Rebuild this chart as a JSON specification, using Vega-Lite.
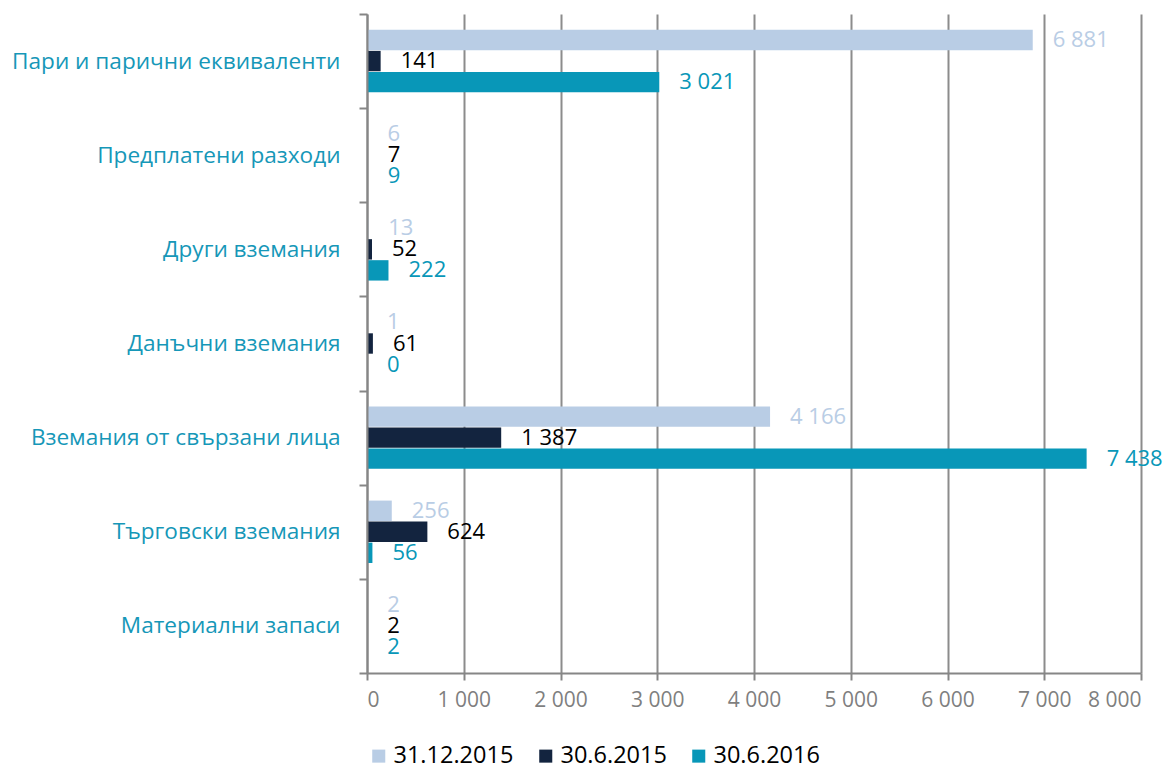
{
  "$schema": "https://vega.github.io/schema/vega-lite/v6.json",
  "width": 774,
  "height": 659,
  "autosize": {"type": "none"},
  "padding": {"left": 367, "top": 14, "right": 34, "bottom": 96},
  "background": "white",
  "config": {
    "locale": {"number": {"decimal": ",", "thousands": " ", "grouping": [3], "currency": ["", ""]}},
    "view": {"stroke": null},
    "font": "Open Sans"
  },
  "data": {
    "values": [
      {"cat": "Пари и парични еквиваленти", "series": "31.12.2015", "value": 6881},
      {"cat": "Пари и парични еквиваленти", "series": "30.6.2015", "value": 141},
      {"cat": "Пари и парични еквиваленти", "series": "30.6.2016", "value": 3021},
      {"cat": "Предплатени разходи", "series": "31.12.2015", "value": 6},
      {"cat": "Предплатени разходи", "series": "30.6.2015", "value": 7},
      {"cat": "Предплатени разходи", "series": "30.6.2016", "value": 9},
      {"cat": "Други вземания", "series": "31.12.2015", "value": 13},
      {"cat": "Други вземания", "series": "30.6.2015", "value": 52},
      {"cat": "Други вземания", "series": "30.6.2016", "value": 222},
      {"cat": "Данъчни вземания", "series": "31.12.2015", "value": 1},
      {"cat": "Данъчни вземания", "series": "30.6.2015", "value": 61},
      {"cat": "Данъчни вземания", "series": "30.6.2016", "value": 0},
      {"cat": "Вземания от свързани лица", "series": "31.12.2015", "value": 4166},
      {"cat": "Вземания от свързани лица", "series": "30.6.2015", "value": 1387},
      {"cat": "Вземания от свързани лица", "series": "30.6.2016", "value": 7438},
      {"cat": "Търговски вземания", "series": "31.12.2015", "value": 256},
      {"cat": "Търговски вземания", "series": "30.6.2015", "value": 624},
      {"cat": "Търговски вземания", "series": "30.6.2016", "value": 56},
      {"cat": "Материални запаси", "series": "31.12.2015", "value": 2},
      {"cat": "Материални запаси", "series": "30.6.2015", "value": 2},
      {"cat": "Материални запаси", "series": "30.6.2016", "value": 2}
    ]
  },
  "encoding": {
    "y": {
      "field": "cat",
      "type": "nominal",
      "sort": null,
      "title": null,
      "scale": {"paddingInner": 0, "paddingOuter": 0},
      "axis": {
        "zindex": 1,
        "domainColor": "#868686",
        "domainWidth": 2,
        "tickColor": "#868686",
        "tickWidth": 2,
        "tickSize": 8,
        "tickBand": "extent",
        "labelFontSize": 22.6,
        "labelColor": "#1697b8",
        "labelPadding": 19,
        "labelLimit": 400,
        "labelFont": "Open Sans"
      }
    },
    "yOffset": {
      "field": "series",
      "type": "nominal",
      "sort": ["31.12.2015", "30.6.2015", "30.6.2016"],
      "scale": {"domain": ["31.12.2015", "30.6.2015", "30.6.2016"], "paddingInner": 0.03, "paddingOuter": 0.755}
    },
    "x": {
      "field": "value",
      "type": "quantitative",
      "title": null,
      "scale": {"domain": [0, 8000], "nice": false},
      "axis": {
        "values": [0, 1000, 2000, 3000, 4000, 5000, 6000, 7000, 8000],
        "format": ",d",
        "domainColor": "#868686",
        "domainWidth": 2,
        "tickColor": "#868686",
        "tickWidth": 2,
        "tickSize": 7,
        "grid": true,
        "gridColor": "#8c8c8c",
        "gridWidth": 2,
        "labelFontSize": 21,
        "labelColor": "#7f7f7f",
        "labelPadding": 9,
        "labelFont": "Open Sans"
      }
    }
  },
  "layer": [
    {
      "mark": {"type": "bar"},
      "encoding": {
        "color": {
          "field": "series",
          "type": "nominal",
          "scale": {"domain": ["31.12.2015", "30.6.2015", "30.6.2016"], "range": ["#b9cde5", "#13243f", "#0897b8"]},
          "legend": {
            "title": null,
            "orient": "none",
            "legendX": 0,
            "legendY": 730,
            "direction": "horizontal",
            "symbolType": "square",
            "symbolSize": 170,
            "symbolStrokeWidth": 0,
            "labelFontSize": 23.5,
            "labelColor": "#000000",
            "labelFont": "Open Sans",
            "columnPadding": 20,
            "labelOffset": 3
          }
        }
      }
    },
    {
      "mark": {"type": "text", "align": "left", "baseline": "middle", "dx": 20, "fontSize": 22, "font": "Open Sans"},
      "encoding": {
        "text": {"field": "value", "type": "quantitative", "format": ",d"},
        "color": {
          "field": "series",
          "type": "nominal",
          "scale": {"domain": ["31.12.2015", "30.6.2015", "30.6.2016"], "range": ["#b9cde5", "#000000", "#0897b8"]},
          "legend": null
        }
      }
    }
  ],
  "resolve": {"scale": {"color": "independent"}}
}
